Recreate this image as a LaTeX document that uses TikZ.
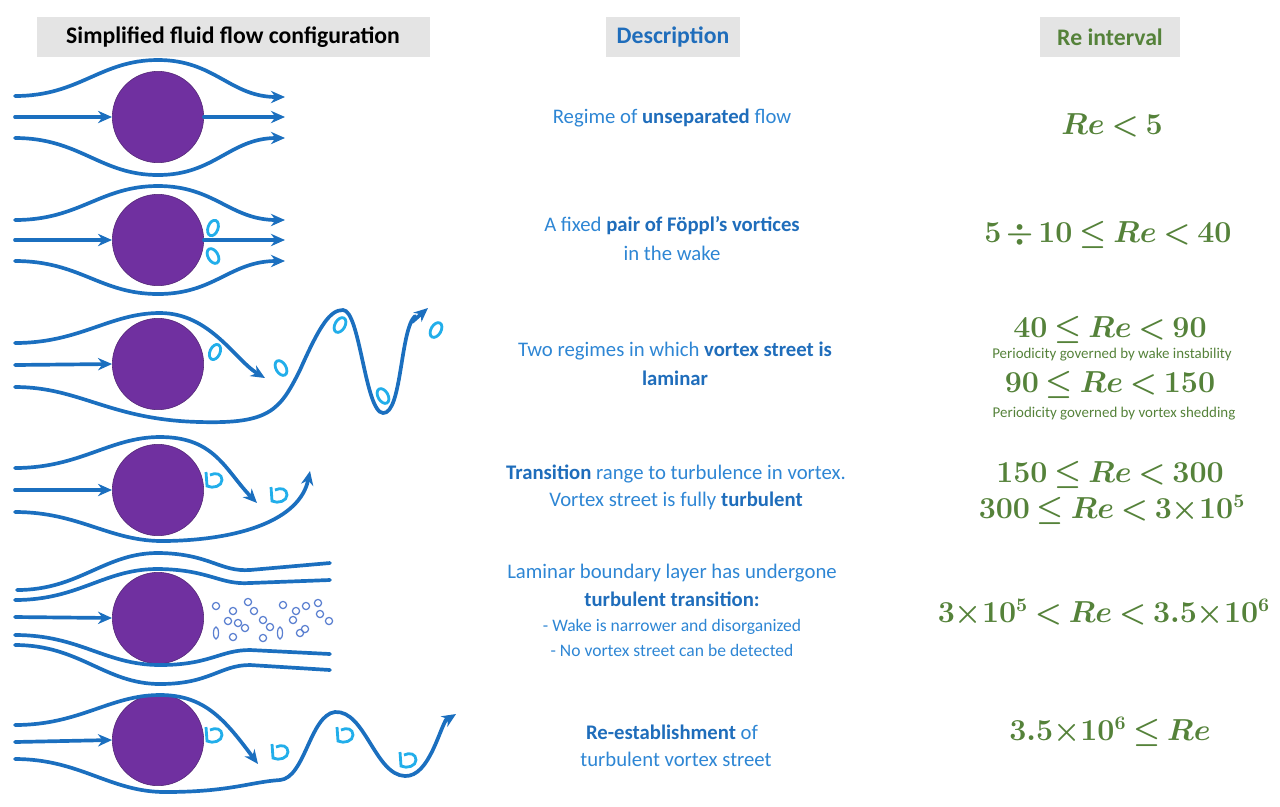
\documentclass[tikz,border=0pt]{standalone}
\usepackage{amsmath}
\usepackage{fontspec}
\setmainfont{Carlito}
\usepackage{tikz}
\usetikzlibrary{arrows.meta}

\definecolor{flowblue}{HTML}{1B6FBF}
\definecolor{vortblue}{HTML}{22AEEA}
\definecolor{turbblue}{HTML}{5A7FD0}
\definecolor{bodypurple}{HTML}{7030A0}
\definecolor{hdrgray}{HTML}{E4E4E4}
\definecolor{desctext}{HTML}{2E86D4}
\definecolor{descbold}{HTML}{1F6DBB}
\definecolor{regreen}{HTML}{55823A}

\tikzset{
  sline/.style={flowblue, line width=2.1pt, line cap=round},
  sarrow/.style={sline, -{Stealth[length=8pt,width=7pt]}},
  vort/.style={vortblue, line width=1.6pt},
  turb/.style={turbblue, line width=0.7pt},
  body/.style={circle, fill=bodypurple, draw=bodypurple!70!black, line width=0.3pt, minimum size=52pt, inner sep=0pt},
  hdr/.style={fill=hdrgray, font=\bfseries\fontsize{13.5}{15}\selectfont, inner xsep=6pt, minimum height=23pt},
  desc/.style={text=desctext, font=\fontsize{11.8}{14}\selectfont},
  small/.style={text=desctext, font=\fontsize{10}{12}\selectfont},
  reval/.style={text=regreen, font=\fontsize{16}{19}\selectfont},
  renote/.style={text=regreen, font=\fontsize{8.5}{10}\selectfont},
}
\newcommand{\hb}[1]{\textcolor{descbold}{\bfseries #1}}
\newcommand{\bm}[1]{$\thickmuskip=3.5mu\medmuskip=2.5mu\boldsymbol{#1}$}

\begin{document}
\begin{tikzpicture}[x=0.02cm, y=-0.02cm]
  \useasboundingbox (0,0) rectangle (1280,806);

  % headers
  \node[hdr, minimum width=393*0.02cm] (hflow) at (233,37) {Simplified fluid flow configuration};
  \node[hdr, text=descbold] (hdesc) at (673,37) {Description};
  \node[hdr, text=regreen, minimum width=140*0.02cm] (hre) at (1110,37) {Re interval};

  % cylinders
  \foreach \y/\n in {117/1,240/2,364/3,490/4,618/5,740/6}
    \node[body] (cyl\n) at (158,\y) {};

  % row 1
  \draw[sarrow] (15,96) .. controls (80,96) and (100,60) .. (158,60) .. controls (215,60) and (230,97) .. (285,97);
  \draw[sarrow] (15,117) -- (cyl1.west);
  \draw[sarrow] (cyl1.east) -- (285,117);
  \draw[sarrow] (15,138) .. controls (80,138) and (100,175) .. (158,175) .. controls (215,175) and (230,138) .. (285,138);

  % row 2
  \draw[sarrow] (15,220) .. controls (80,220) and (100,186) .. (158,186) .. controls (215,186) and (230,220) .. (285,220);
  \draw[sarrow] (15,240) -- (cyl2.west);
  \draw[sarrow] (cyl2.east) -- (285,240);
  \draw[sarrow] (15,261) .. controls (80,261) and (100,294) .. (158,294) .. controls (215,294) and (230,261) .. (285,261);
  \draw[vort, rotate around={-20:(213,228)}] (213,228) ellipse (5 and 8);
  \draw[vort, rotate around={30:(213,256)}] (213,256) ellipse (5 and 8);

  % row 3
  \draw[sarrow] (15,343) .. controls (80,343) and (110,313) .. (160,313) .. controls (210,313) and (235,360) .. (265,378);
  \draw[sarrow] (15,365) -- (cyl3.west);
  \draw[sline] (15,387) .. controls (80,387) and (110,420) .. (200,422) .. controls (270,424) and (280,410) .. (300,370)
    .. controls (320,325) and (330,310) .. (343,310) .. controls (360,310) and (365,412) .. (383,413)
    .. controls (402,414) and (400,330) .. (415,316);
  \draw[sarrow] (412,322) -- (428,308);
  \draw[vort, rotate around={-25:(215,352)}] (215,352) ellipse (5 and 8);
  \draw[vort, rotate around={30:(281,368)}] (281,368) ellipse (5 and 8);
  \draw[vort, rotate around={-30:(340,325)}] (340,325) ellipse (5 and 8);
  \draw[vort, rotate around={30:(383,396)}] (383,396) ellipse (5 and 8);
  \draw[vort, rotate around={-30:(436,330)}] (436,330) ellipse (5 and 8);

  % row 4
  \draw[sarrow] (15,468) .. controls (80,468) and (110,437) .. (160,437) .. controls (215,437) and (225,470) .. (257,503);
  \draw[sarrow] (15,490) -- (cyl4.west);
  \draw[sarrow] (15,512) .. controls (80,512) and (110,542) .. (165,541) .. controls (240,540) and (300,520) .. (310,471);
  \foreach \x/\y in {214/480,279/495}
    \draw[vort] (\x-8,\y-8) -- (\x-7,\y+6) .. controls (\x-1,\y+9) and (\x+8,\y+6) .. (\x+8,\y) .. controls (\x+8,\y-6) and (\x+2,\y-8) .. (\x-4,\y-5);

  % row 5
  \draw[sline] (17,590) .. controls (80,590) and (105,552) .. (160,553) .. controls (210,554) and (220,572) .. (250,570) -- (330,563);
  \draw[sline] (15,600) .. controls (80,600) and (105,568) .. (160,569) .. controls (210,570) and (220,585) .. (250,583) -- (330,580);
  \draw[sarrow] (15,617) -- (cyl5.west);
  \draw[sline] (15,635) .. controls (80,635) and (105,665) .. (160,665) .. controls (210,665) and (220,650) .. (250,650) -- (330,654);
  \draw[sline] (15,645) .. controls (80,645) and (105,684) .. (160,684) .. controls (210,684) and (220,665) .. (250,665) -- (330,670);
  \foreach \x/\y in {216/606,233/611,228/621,238/623,248/602,254/611,263/620,245/628,270/627,283/605,296/611,293/620,306/606,318/603,320/614,329/621,300/633,233/637,263/638,305/629}
    \draw[turb] (\x,\y) circle (3.6);
  \foreach \x/\y in {216/633,280/633}
    \draw[turb] (\x,\y) ellipse (2.5 and 6);

  % row 6
  \draw[sarrow] (15,725) .. controls (80,725) and (110,695) .. (160,695) .. controls (205,695) and (225,720) .. (258,764);
  \draw[sarrow] (15,742) -- (cyl6.west);
  \draw[sline] (15,759) .. controls (80,759) and (110,792) .. (165,792) .. controls (230,792) and (250,782) .. (280,780)
    .. controls (305,778) and (310,715) .. (335,712) .. controls (365,710) and (375,775) .. (405,776)
    .. controls (430,777) and (440,725) .. (448,717);
  \draw[sarrow] (445,721) -- (456,714);
  \foreach \x/\y in {214/735,280/752,345/735,408/760}
    \draw[vort] (\x-8,\y-8) -- (\x-7,\y+6) .. controls (\x-1,\y+9) and (\x+8,\y+6) .. (\x+8,\y) .. controls (\x+8,\y-6) and (\x+2,\y-8) .. (\x-4,\y-5);

  % descriptions
  \node[desc] (d1) at (672,118) {Regime of \hb{unseparated} flow};
  \node[desc] (d2a) at (672,226) {A fixed \hb{pair of Föppl’s vortices}};
  \node[desc] (d2b) at (672,253) {in the wake};
  \node[desc] (d3a) at (675,351) {Two regimes in which \hb{vortex street is}};
  \node[desc] (d3b) at (675,378) {\hb{laminar}};
  \node[desc] (d4a) at (676,474) {\hb{Transition} range to turbulence in vortex.};
  \node[desc] (d4b) at (676,501) {Vortex street is fully \hb{turbulent}};
  \node[desc] (d5a) at (672,573) {Laminar boundary layer has undergone};
  \node[desc] (d5b) at (672,599) {\hb{turbulent transition:}};
  \node[small] (d5c) at (672,627) {- Wake is narrower and disorganized};
  \node[small] (d5d) at (672,650) {- No vortex street can be detected};
  \node[desc] (d6a) at (672,732) {\hb{Re-establishment} of};
  \node[desc] (d6b) at (676,759) {turbulent vortex street};

  % Re intervals
  \node[reval] (r1) at (1112,125) {\bm{Re<5}};
  \node[reval] (r2) at (1108,235) {\bm{5\div 10\le Re<40}};
  \node[reval] (r3a) at (1110,330) {\bm{40\le Re<90}};
  \node[renote] (n3a) at (1112,355) {Periodicity governed by wake instability};
  \node[reval] (r3b) at (1110,385) {\bm{90\le Re<150}};
  \node[renote] (n3b) at (1114,414) {Periodicity governed by vortex shedding};
  \node[reval] (r4a) at (1110,475) {\bm{150\le Re<300}};
  \node[reval] (r4b) at (1112,510) {\bm{300\le Re<3{\times}10^5}};
  \node[reval] (r5) at (1104,613) {\bm{3{\times}10^5<Re<3.5{\times}10^6}};
  \node[reval] (r6) at (1110,732) {\bm{3.5{\times}10^6\le Re}};
\end{tikzpicture}
\end{document}
